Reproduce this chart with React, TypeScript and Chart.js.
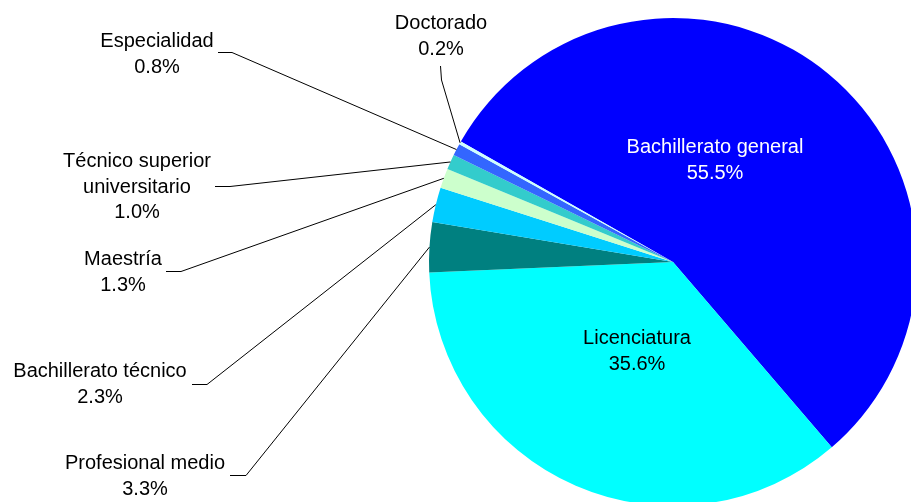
import React, { useEffect, useRef } from "react";
import { Chart, registerables } from "chart.js";

Chart.register(...registerables);

// ---- data ----
const categories = [
  "Bachillerato general",
  "Licenciatura",
  "Profesional medio",
  "Bachillerato técnico",
  "Maestría",
  "Técnico superior universitario",
  "Especialidad",
  "Doctorado",
];
const shares = [55.5, 35.6, 3.3, 2.3, 1.3, 1.0, 0.8, 0.2];
const sliceColors = [
  "#0000FF",
  "#00FFFF",
  "#008080",
  "#00CCFF",
  "#CCFFCC",
  "#33CCCC",
  "#3366FF",
  "#CCFFFF",
];
const labelLines = [
  ["Bachillerato general"],
  ["Licenciatura"],
  ["Profesional medio"],
  ["Bachillerato técnico"],
  ["Maestría"],
  ["Técnico superior", "universitario"],
  ["Especialidad"],
  ["Doctorado"],
];

// ---- label layout (text centre x, first baseline y, colour, leader start & elbow) ----
type LabelLayout = {
  x: number;
  y: number;
  color: string;
  leader: [number, number][] | null;
};
const labelLayout: LabelLayout[] = [
  { x: 715, y: 153, color: "#FFFFFF", leader: null },
  { x: 637, y: 344, color: "#000000", leader: null },
  { x: 145, y: 469, color: "#000000", leader: [[230, 475.5], [246, 475.5]] },
  { x: 100, y: 377, color: "#000000", leader: [[192, 384.5], [207, 384.5]] },
  { x: 123, y: 265, color: "#000000", leader: [[166, 271.5], [181, 271.5]] },
  { x: 137, y: 167, color: "#000000", leader: [[215, 186.5], [230, 186.5]] },
  { x: 157, y: 47, color: "#000000", leader: [[218, 52.5], [232, 52.5]] },
  { x: 441, y: 29, color: "#000000", leader: [[440.5, 66], [441.5, 80]] },
];
const FONT = '20px "Liberation Sans", Arial, sans-serif';
const LINE_H = 25.5;

const labelPlugin = {
  id: "pieLabels",
  afterDraw(chart: any) {
    const ctx = chart.ctx as CanvasRenderingContext2D;
    const meta = chart.getDatasetMeta(0);
    ctx.save();
    ctx.font = FONT;
    ctx.textAlign = "center";
    ctx.textBaseline = "alphabetic";
    meta.data.forEach((arc: any, i: number) => {
      const p = arc.getProps(["x", "y", "startAngle", "endAngle", "outerRadius"], true);
      const mid = (p.startAngle + p.endAngle) / 2;
      const ex = p.x + Math.cos(mid) * p.outerRadius;
      const ey = p.y + Math.sin(mid) * p.outerRadius;
      const lay = labelLayout[i];
      if (lay.leader) {
        ctx.strokeStyle = "#000000";
        ctx.lineWidth = 1;
        ctx.beginPath();
        ctx.moveTo(lay.leader[0][0], lay.leader[0][1]);
        ctx.lineTo(lay.leader[1][0], lay.leader[1][1]);
        ctx.lineTo(ex, ey);
        ctx.stroke();
      }
      const lines = [...labelLines[i], shares[i].toFixed(1) + "%"];
      ctx.fillStyle = lay.color;
      lines.forEach((t, k) => {
        ctx.fillText(t, lay.x, lay.y + k * LINE_H);
      });
    });
    ctx.restore();
  },
};

export default function App() {
  const ref = useRef<HTMLCanvasElement | null>(null);

  useEffect(() => {
    if (!ref.current) return;
    const chart = new Chart(ref.current, {
      type: "pie",
      data: {
        labels: categories,
        datasets: [
          {
            data: shares,
            backgroundColor: sliceColors,
            borderWidth: 0,
            hoverOffset: 0,
          },
        ],
      },
      options: {
        responsive: false,
        animation: false,
        devicePixelRatio: 1,
        rotation: -60.4,
        layout: { padding: { left: 429, top: 18, right: 13, bottom: 14 } },
        plugins: {
          legend: { display: false },
          tooltip: { enabled: false },
        },
        events: [],
      },
      plugins: [labelPlugin],
    });
    return () => chart.destroy();
  }, []);

  return (
    <div
      style={{
        position: "fixed",
        left: 0,
        top: 0,
        width: 911,
        height: 502,
        overflow: "hidden",
        background: "#FFFFFF",
      }}
    >
      <canvas ref={ref} width={930} height={520} style={{ display: "block" }} />
    </div>
  );
}
